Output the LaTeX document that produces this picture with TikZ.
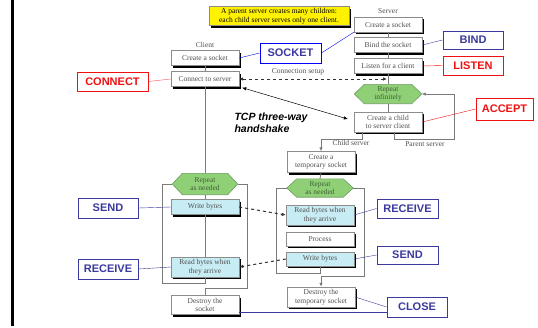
\documentclass[tikz,border=0pt]{standalone}
\usepackage{fontspec}
\setmainfont{Liberation Serif}
\setsansfont{Liberation Sans}
\usepackage{tikz}
\usetikzlibrary{shadows, arrows.meta, backgrounds}

\definecolor{boxgray}{HTML}{8C8C8C}
\definecolor{txtgray}{HTML}{505050}
\definecolor{linegray}{HTML}{7A7A7A}
\definecolor{hexfill}{HTML}{8FD076}
\definecolor{hexline}{HTML}{6E9E60}
\definecolor{hextext}{HTML}{3F5F35}
\definecolor{iofill}{HTML}{C8ECF3}
\definecolor{tagblue}{HTML}{3A3A9E}
\definecolor{tagred}{HTML}{F01010}
\definecolor{linkred}{HTML}{F05050}

\tikzset{
  proc/.style={draw=boxgray, fill=white, text=txtgray, minimum width=68pt,
    minimum height=15pt, inner sep=1pt, align=center,
    font=\fontsize{7.5}{8.5}\selectfont,
    drop shadow={shadow xshift=2pt, shadow yshift=-2pt, fill=black, opacity=1}},
  iobox/.style={proc, fill=iofill},
  repeatbox/.style={minimum width=66pt, minimum height=20pt, inner sep=0pt,
    text=hextext, align=center, font=\fontsize{7.5}{8.5}\selectfont},
  hexline/.style={draw=hexline, fill=hexfill, line width=0.6pt},
  tagbox/.style={draw, line width=0.9pt, fill=white, minimum width=60pt,
    minimum height=19pt, inner sep=1pt, font=\sffamily\bfseries\fontsize{11}{12}\selectfont},
  bluetag/.style={tagbox, draw=tagblue, text=tagblue},
  redtag/.style={tagbox, draw=tagred, text=tagred},
  lbl/.style={text=txtgray, font=\fontsize{7.5}{8.5}\selectfont},
  flow/.style={draw=linegray, line width=0.8pt},
  msg/.style={dashed, line width=1pt, txtgray!60!black},
  tip/.style={-{Latex[length=4pt, width=3.5pt]}},
}

\begin{document}
\begin{tikzpicture}[x=1pt, y=-1pt]
  \useasboundingbox (0,0) rectangle (538,327);

  % left margin bar
  \draw[line width=3pt] (12.5,0) -- (12.5,326);

  % note
  \node[proc, fill=yellow, text=black, draw=boxgray, minimum width=140pt,
    minimum height=19pt] (note) at (279,16)
    {A parent server creates many children:\\each child server serves only one client.};

  %---- SERVER ----
  \node[lbl] (srvlbl) at (388,11) {Server};
  \node[proc] (s_create) at (388,24.5) {Create a socket};
  \node[proc] (s_bind) at (388,45) {Bind the socket};
  \node[proc] (s_listen) at (388,66) {Listen for a client};
  \node[repeatbox, minimum width=67pt, minimum height=19pt] (s_rep) at (388,94) {Repeat\\infinitely};
  \node[proc, minimum height=20pt] (s_child) at (388,122) {Create a child\\to server client};
  \coordinate (s_line) at (387,79);
  \coordinate (s_parent) at (454,139);

  %---- CLIENT ----
  \node[lbl] (clilbl) at (205,45) {Client};
  \node[proc] (c_create) at (205,58) {Create a socket};
  \node[proc] (c_connect) at (205,79) {Connect to server};
  \node[repeatbox, minimum width=65pt, minimum height=21pt] (c_rep) at (205,184) {Repeat\\as needed};
  \node[iobox] (c_write) at (205,207) {Write bytes};
  \node[iobox, minimum height=20pt] (c_read) at (205,267) {Read bytes when\\they arrive};
  \node[proc, minimum height=19pt] (c_destroy) at (205,305) {Destroy the\\socket};

  %---- CHILD SERVER ----
  \node[proc, minimum height=21pt] (t_create) at (321,162) {Create a\\temporary socket};
  \node[repeatbox, minimum height=18pt] (t_rep) at (320,188) {Repeat\\as needed};
  \node[iobox, minimum height=20pt] (t_read) at (320,215) {Read bytes when\\they arrive};
  \node[proc, minimum height=14pt] (t_proc) at (320,239) {Process};
  \node[iobox, minimum height=14pt] (t_write) at (320,259) {Write bytes};
  \node[proc, minimum height=20pt] (t_destroy) at (321,297) {Destroy the\\temporary socket};

  % hexagons behind the repeat labels
  \begin{scope}[on background layer]
    \foreach \n in {s_rep, c_rep, t_rep}{
      \filldraw[hexline] (\n.west) -- ([xshift=10pt]\n.north west)
        -- ([xshift=-10pt]\n.north east) -- (\n.east)
        -- ([xshift=-10pt]\n.south east) -- ([xshift=10pt]\n.south west) -- cycle;
    }
  \end{scope}

  % flow lines
  \foreach \a/\b in {s_create/s_bind, s_bind/s_listen, s_listen/s_rep, s_rep/s_child,
                     c_create/c_connect, c_connect/c_rep, c_rep/c_write, c_write/c_read,
                     t_create/t_rep}{
    \draw[flow] (\a.south) -- (\b.north);
  }

  % client loop
  \draw[flow] (c_read.south) -- ++(0,6) -| ([xshift=-10pt]c_rep.west) -- (c_rep.west);
  \draw[flow] (c_rep.east) -- ++(10,0) |- ([yshift=7pt]c_destroy.north) -- (c_destroy.north);

  % child server loop
  \draw[flow] (t_write.south) -- ++(0,7) -| ([xshift=-10pt]t_rep.west) -- (t_rep.west);
  \draw[flow, tip] (t_rep.east) -- ++(11,0) |- ([yshift=10pt]t_destroy.north) -- (t_destroy.north);

  % child / parent
  \draw[flow, tip] ([xshift=-26pt]s_child.south) -- ++(0,7) -| (t_create.north);
  \draw[flow, tip] ([xshift=6pt]s_child.south) |- (s_parent) |- (s_rep.east);
  \node[lbl] (childlbl) at (351,143) {Child server};
  \node[lbl] (parentlbl) at (425,144) {Parent server};

  % messages
  \draw[msg, {Latex[length=4pt, width=3.5pt]}-{Latex[length=4pt, width=3.5pt]}]
    (c_connect.east) -- (s_line);
  \node[lbl] (setuplbl) at (298,72) {Connection setup};
  \draw[{Latex[length=4pt, width=3.5pt]}-{Latex[length=4pt, width=3.5pt]}, line width=0.5pt]
    ([shift={(3,1)}]c_connect.south east) -- ([shift={(-6,-3)}]s_child.west);
  \node[anchor=north west, align=left, font=\sffamily\bfseries\itshape\fontsize{10.5}{12}\selectfont]
    (tcplbl) at (231,109) {TCP three-way\\handshake};
  \draw[msg, tip] (c_write.east) -- (t_read.west);
  \draw[msg, tip] (t_write.west) -- (c_read.east);

  %---- CALLOUTS ----
  \node[tagbox, draw=blue, text=tagblue, minimum width=61pt, minimum height=20pt] (socket) at (290.5,53) {SOCKET};
  \node[bluetag, minimum height=18pt] (bind) at (473,40) {BIND};
  \node[redtag] (listen) at (473,65.5) {LISTEN};
  \node[redtag, minimum width=71pt] (connect) at (112.5,81.5) {CONNECT};
  \node[redtag, minimum width=57pt, minimum height=22pt] (accept) at (504.5,109) {ACCEPT};
  \node[bluetag, minimum height=20pt] (sendc) at (108,208) {SEND};
  \node[bluetag, minimum height=20pt] (recvc) at (108,269) {RECEIVE};
  \node[bluetag, minimum width=61pt] (recvs) at (407.5,208.5) {RECEIVE};
  \node[bluetag, minimum width=61pt, minimum height=18pt] (sends) at (407.5,255) {SEND};
  \node[bluetag, minimum height=20pt] (close) at (417,307) {CLOSE};

  % callout links
  \draw[blue] (c_create.east) -- (socket.west);
  \draw[blue] (socket.east) -- (s_create.south west);
  \draw[tagblue] (bind.west) -- (s_bind.east);
  \draw[tagred] (listen.west) -- (s_listen.east);
  \draw[linkred] (connect.east) -- (c_connect.west);
  \draw[tagred] (accept.west) -- (s_child.east);
  \draw[tagblue] (sendc.east) -- (c_write.west);
  \draw[tagblue] (recvc.east) -- (c_read.west);
  \draw[tagblue] (t_read.east) -- (recvs.west);
  \draw[tagblue] (t_write.east) -- (sends.west);
  \draw[tagblue] (t_destroy.east) -- (close.west);
  \draw[tagblue] ([yshift=-7pt]c_destroy.east) -- ([yshift=-5pt]close.west);
\end{tikzpicture}
\end{document}
